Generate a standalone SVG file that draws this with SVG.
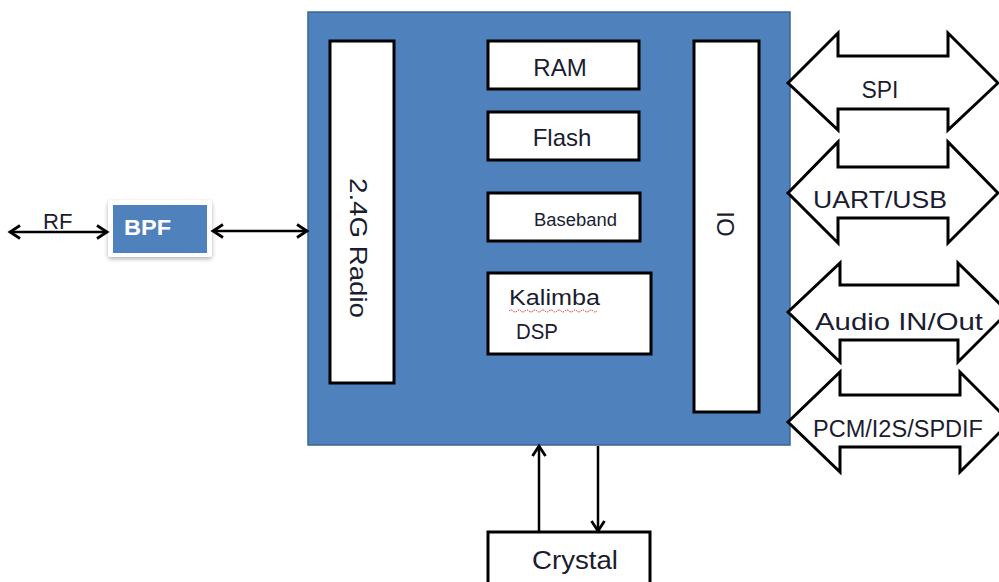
<svg xmlns="http://www.w3.org/2000/svg" width="999" height="582" viewBox="0 0 999 582">
<defs>
<style>
.blk{fill:#fff;stroke:#000;stroke-width:3}
.lbl{font-family:"Liberation Sans",Arial,sans-serif;fill:#1c1c30}
.con{stroke:#000;stroke-width:2.5;fill:none}
.barrow{fill:#fff;stroke:#000;stroke-width:3;stroke-linejoin:miter}
</style>
<marker id="ah" markerUnits="userSpaceOnUse" markerWidth="16" markerHeight="16" refX="12" refY="8" orient="auto-start-reverse" viewBox="0 0 16 16">
<path d="M2,1.5 L12,8 L2,14.5" fill="none" stroke="#000" stroke-width="2.8"/>
</marker>
<filter id="sh" x="-20%" y="-20%" width="140%" height="150%">
<feDropShadow dx="0" dy="2" stdDeviation="2" flood-color="#000" flood-opacity="0.3"/>
</filter>
</defs>
<rect width="999" height="582" fill="#fff"/>

<g id="main">
<rect x="308" y="12" width="482" height="433" fill="#4f81bd" stroke="#3a6594" stroke-width="1.5"/>
</g>

<g id="radio">
<rect class="blk" x="330" y="41" width="64" height="342"/>
<text class="lbl" font-size="24" transform="translate(350,248) rotate(90)" text-anchor="middle" textLength="140" lengthAdjust="spacingAndGlyphs">2.4G Radio</text>
</g>

<g id="ram">
<rect class="blk" x="488" y="41" width="151" height="48"/>
<text class="lbl" font-size="24" x="560" y="76" text-anchor="middle">RAM</text>
</g>

<g id="flash">
<rect class="blk" x="488" y="112" width="151" height="48"/>
<text class="lbl" font-size="24" x="562" y="146" text-anchor="middle">Flash</text>
</g>

<g id="baseband">
<rect class="blk" x="488" y="193" width="152" height="48"/>
<text class="lbl" font-size="17.5" x="534" y="226" textLength="83" lengthAdjust="spacingAndGlyphs">Baseband</text>
</g>

<g id="dsp">
<rect class="blk" x="488" y="273" width="163" height="81"/>
<text class="lbl" font-size="22" x="509" y="305" textLength="91" lengthAdjust="spacingAndGlyphs">Kalimba</text>
<path d="M509,311 q2,-2 4,0 t4,0 t4,0 t4,0 t4,0 t4,0 t4,0 t4,0 t4,0 t4,0 t4,0 t4,0 t4,0 t4,0 t4,0 t4,0 t4,0 t4,0 t4,0 t4,0 t4,0 t4,0" fill="none" stroke="#e02020" stroke-width="1" stroke-dasharray="1.5,1"/>
<text class="lbl" font-size="22" x="516" y="339" textLength="42" lengthAdjust="spacingAndGlyphs">DSP</text>
</g>

<g id="io">
<rect class="blk" x="694" y="41" width="65" height="371"/>
<text class="lbl" font-size="24" transform="translate(717,224) rotate(90)" text-anchor="middle">IO</text>
</g>

<g id="bpf">
<rect x="108" y="200" width="104" height="57" rx="3" fill="#fff" filter="url(#sh)"/>
<rect x="113" y="205" width="94" height="48" fill="#4f81bd"/>
<text font-family="Liberation Sans,Arial,sans-serif" font-weight="bold" font-size="22" fill="#fff" x="124" y="235" textLength="47" lengthAdjust="spacingAndGlyphs">BPF</text>
</g>

<g id="rf">
<text class="lbl" font-size="22" x="43" y="229">RF</text>
</g>

<g id="crystal">
<rect class="blk" x="488" y="532" width="162" height="60"/>
<text class="lbl" font-size="25" x="532" y="569" textLength="86" lengthAdjust="spacingAndGlyphs">Crystal</text>
</g>

<g id="spi">
<path class="barrow" d="M788,83 L838,33 L838,56 L948,56 L948,33 L998,83 L948,130 L948,109 L838,109 L838,130 Z"/>
<text class="lbl" font-size="24" x="880" y="98" text-anchor="middle" textLength="37" lengthAdjust="spacingAndGlyphs">SPI</text>
</g>

<g id="uart">
<path class="barrow" d="M788,193 L838,142 L838,167 L948,167 L948,142 L998,193 L948,243 L948,218 L838,218 L838,243 Z"/>
<text class="lbl" font-size="24" x="880" y="208" text-anchor="middle" textLength="134" lengthAdjust="spacingAndGlyphs">UART/USB</text>
</g>

<g id="audio">
<path class="barrow" d="M788,312 L840,263 L840,285 L958,285 L958,263 L1008,312 L958,362 L958,340 L840,340 L840,362 Z"/>
<text class="lbl" font-size="24" x="899" y="330" text-anchor="middle" textLength="168" lengthAdjust="spacingAndGlyphs">Audio IN/Out</text>
</g>

<g id="pcm">
<path class="barrow" d="M788,422 L840,372 L840,395 L960,395 L960,372 L1010,422 L960,472 L960,447 L840,447 L840,472 Z"/>
<text class="lbl" font-size="23" x="898" y="437" text-anchor="middle" textLength="170" lengthAdjust="spacingAndGlyphs">PCM/I2S/SPDIF</text>
</g>

<g id="connectors">
<line class="con" x1="10" y1="232" x2="107" y2="232" marker-start="url(#ah)" marker-end="url(#ah)"/>
<line class="con" x1="213" y1="231" x2="307" y2="231" marker-start="url(#ah)" marker-end="url(#ah)"/>
<line class="con" x1="539" y1="532" x2="539" y2="446" marker-end="url(#ah)"/>
<line class="con" x1="598" y1="446" x2="598" y2="531" marker-end="url(#ah)"/>
</g>
</svg>
